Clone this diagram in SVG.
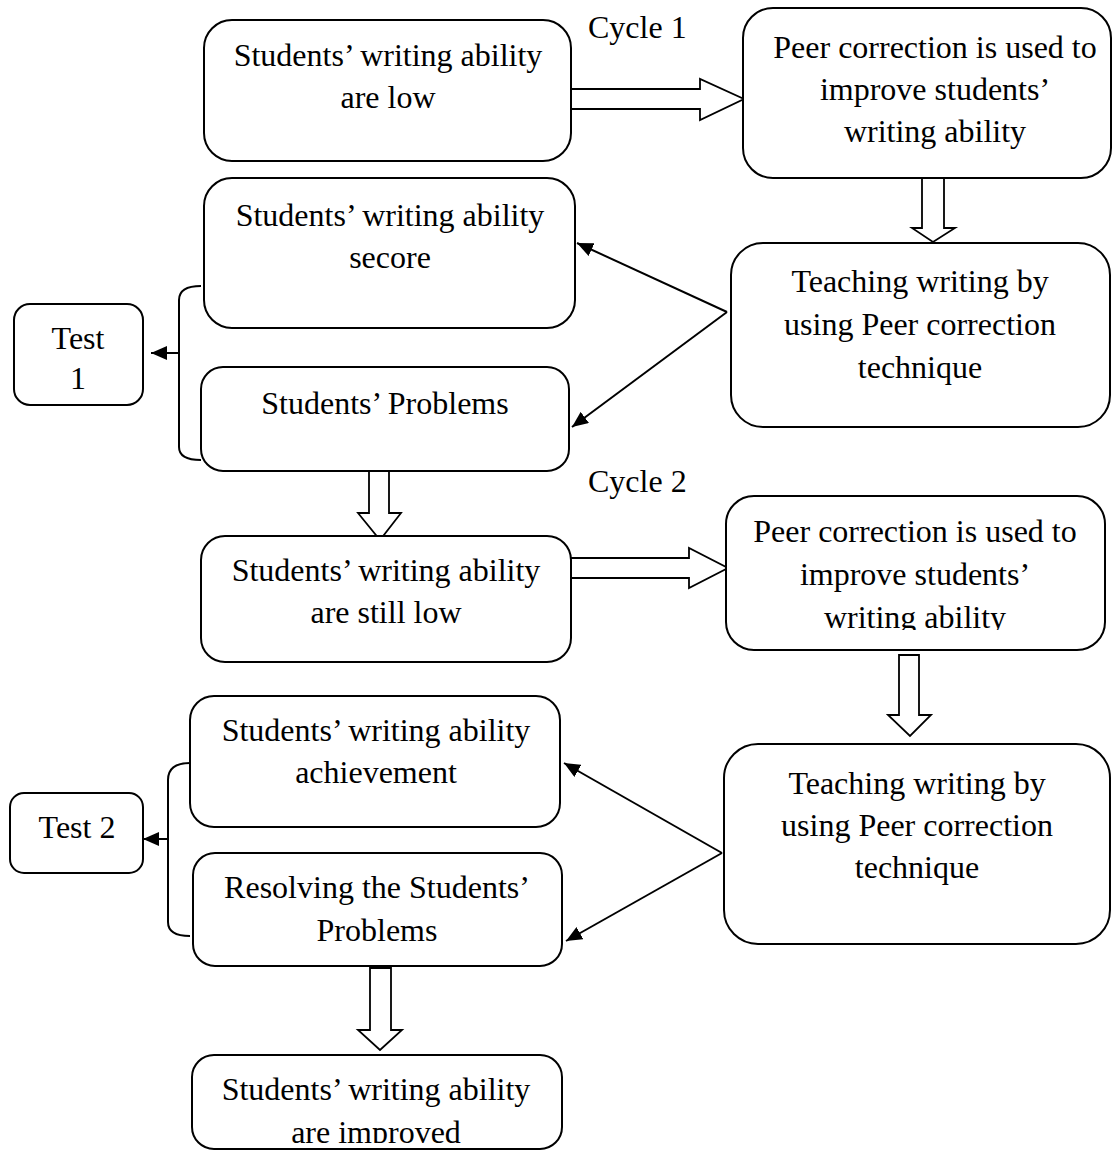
<svg xmlns="http://www.w3.org/2000/svg" width="1120" height="1152" viewBox="0 0 1120 1152">
<style>
.box{fill:#fff;stroke:#000;stroke-width:2}
.hol{fill:#fff;stroke:#000;stroke-width:1.8;stroke-linejoin:miter}
.ln{fill:none;stroke:#000;stroke-width:2}
text{font-family:"Liberation Serif","Times New Roman",serif;font-size:32px;fill:#000;text-anchor:middle}
.lbl{text-anchor:start}
</style>
<defs>
<marker id="ah" markerUnits="userSpaceOnUse" markerWidth="18" markerHeight="14" refX="16" refY="7" orient="auto">
<path d="M0,0 L16,7 L0,14 Z" fill="#000"/>
</marker>
<clipPath id="clipG"><rect x="700" y="480" width="420" height="150"/></clipPath>
<clipPath id="clipK"><rect x="180" y="1050" width="400" height="93"/></clipPath>
</defs>
<rect width="1120" height="1152" fill="#fff"/>

<g id="connectors">
<polygon class="hol" points="571,89 700,89 700,79 744,99 700,120 700,109 571,109"/>
<polygon class="hol" points="922,178 922,228 912,228 933,242 955,228 944,228 944,178"/>
<polygon class="hol" points="369,470 369,513 358,513 380,540 401,513 389,513 389,470"/>
<polygon class="hol" points="570,558 689,558 689,548 728,568 689,588 689,578 570,578"/>
<polygon class="hol" points="899,655 899,715 888,715 910,736 931,715 919,715 919,655"/>
<polygon class="hol" points="370,968 370,1030 358,1030 380,1050 402,1030 391,1030 391,968"/>
<line class="ln" x1="727" y1="312" x2="577" y2="243" marker-end="url(#ah)"/>
<line class="ln" x1="727" y1="312" x2="572" y2="427" marker-end="url(#ah)"/>
<line class="ln" x1="722" y1="853" x2="564" y2="763" marker-end="url(#ah)"/>
<line class="ln" x1="722" y1="853" x2="566" y2="941" marker-end="url(#ah)"/>
<path class="ln" d="M201,286 C188,286 179,290 179,300 L179,447 C179,456 188,460 201,460"/>
<line class="ln" x1="179" y1="353" x2="151" y2="353" marker-end="url(#ah)"/>
<path class="ln" d="M190,763 C176,763 168,768 168,780 L168,922 C168,932 176,936 190,936"/>
<line class="ln" x1="168" y1="839" x2="143" y2="839" marker-end="url(#ah)"/>
</g>

<g id="cycle1"><text class="lbl" x="588" y="38">Cycle 1</text></g>
<g id="cycle2"><text class="lbl" x="588" y="492">Cycle 2</text></g>

<g id="nodeA">
<rect class="box" x="204" y="20" width="367" height="141" rx="28"/>
<text x="388" y="66">Students’ writing ability</text>
<text x="388" y="108">are low</text>
</g>
<g id="nodeB">
<rect class="box" x="743" y="8" width="368" height="170" rx="30"/>
<text x="935" y="58">Peer correction is used to</text>
<text x="935" y="100">improve students’</text>
<text x="935" y="142">writing ability</text>
</g>
<g id="nodeC">
<rect class="box" x="731" y="243" width="379" height="184" rx="32"/>
<text x="920" y="292">Teaching writing by</text>
<text x="920" y="335">using Peer correction</text>
<text x="920" y="378">technique</text>
</g>
<g id="nodeD">
<rect class="box" x="204" y="178" width="371" height="150" rx="28"/>
<text x="390" y="226">Students’ writing ability</text>
<text x="390" y="268">secore</text>
</g>
<g id="nodeE">
<rect class="box" x="201" y="367" width="368" height="104" rx="22"/>
<text x="385" y="414">Students’ Problems</text>
</g>
<g id="test1">
<rect class="box" x="14" y="304" width="129" height="101" rx="16"/>
<text x="78" y="349">Test</text>
<text x="78" y="389">1</text>
</g>
<g id="nodeF">
<rect class="box" x="201" y="536" width="370" height="126" rx="24"/>
<text x="386" y="581">Students’ writing ability</text>
<text x="386" y="623">are still low</text>
</g>
<g id="nodeG">
<rect class="box" x="726" y="496" width="379" height="154" rx="28"/>
<text x="915" y="542">Peer correction is used to</text>
<text x="915" y="585">improve students’</text>
<text x="915" y="628" clip-path="url(#clipG)">writing ability</text>
</g>
<g id="nodeH">
<rect class="box" x="724" y="744" width="386" height="200" rx="34"/>
<text x="917" y="794">Teaching writing by</text>
<text x="917" y="836">using Peer correction</text>
<text x="917" y="878">technique</text>
</g>
<g id="nodeI">
<rect class="box" x="190" y="696" width="370" height="131" rx="24"/>
<text x="376" y="741">Students’ writing ability</text>
<text x="376" y="783">achievement</text>
</g>
<g id="test2">
<rect class="box" x="10" y="793" width="133" height="80" rx="14"/>
<text x="77" y="838">Test 2</text>
</g>
<g id="nodeJ">
<rect class="box" x="193" y="853" width="369" height="113" rx="22"/>
<text x="377" y="898">Resolving the Students’</text>
<text x="377" y="941">Problems</text>
</g>
<g id="nodeK">
<rect class="box" x="192" y="1055" width="370" height="94" rx="22"/>
<text x="376" y="1100">Students’ writing ability</text>
<text x="376" y="1143" clip-path="url(#clipK)">are improved</text>
</g>
</svg>
